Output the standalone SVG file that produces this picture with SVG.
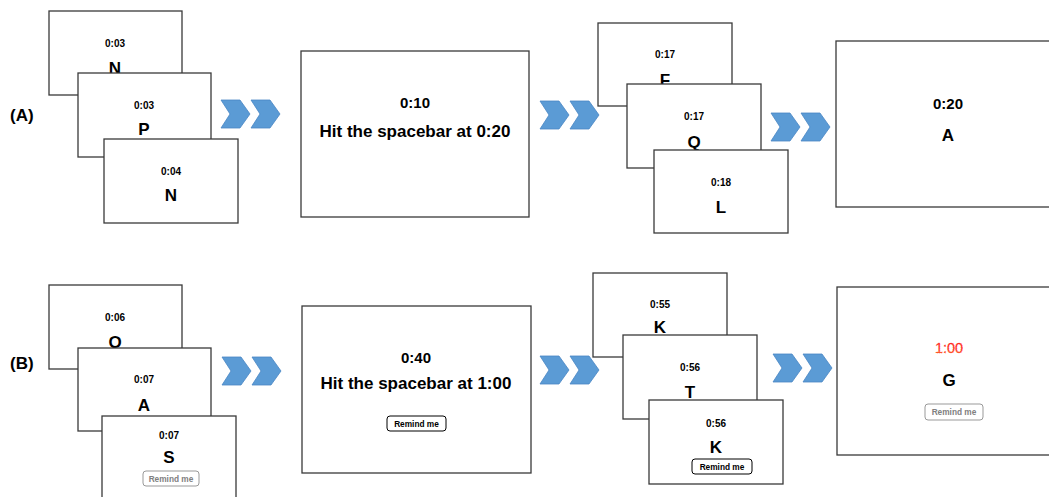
<svg xmlns="http://www.w3.org/2000/svg" width="1049" height="497" viewBox="0 0 1049 497">
<defs>
<style>
.scr{fill:#fff;stroke:#3a3a3a;stroke-width:1.3}
.t{font-family:"Liberation Sans",Arial,sans-serif;font-weight:bold;text-anchor:middle;fill:#000}
.tm{font-size:10px}
.lt{font-size:17px}
.big{font-size:15px}
.hit{font-size:17px}
.lab{font-family:"Liberation Sans",Arial,sans-serif;font-weight:bold;font-size:17px;fill:#000}
.btn{fill:#fff;stroke:#000;stroke-width:1}
.btng{fill:#fff;stroke:#999;stroke-width:1}
.bt{font-family:"Liberation Sans",Arial,sans-serif;font-weight:bold;font-size:8.3px;text-anchor:middle;fill:#000}
.btg{fill:#808080}
.chev{fill:#5B9BD5;stroke:#4A86C4;stroke-width:0.8}
</style>
<linearGradient id="redg" x1="0" y1="0" x2="0" y2="1">
<stop offset="0" stop-color="#ff1a1a"/>
<stop offset="0.6" stop-color="#ff3a2a"/>
<stop offset="1" stop-color="#ff8a2a"/>
</linearGradient>
<g id="dchev">
<path class="chev" d="M0,0 H19 L29,14 L19,28 H0 L9,14 Z"/>
<path class="chev" d="M30,0 H49 L59,14 L49,28 H30 L39,14 Z"/>
</g>
</defs>
<rect width="1049" height="497" fill="#fff"/>

<text class="lab" x="10" y="121">(A)</text>
<text class="lab" x="10" y="369">(B)</text>

<!-- Row A -->
<g id="a1">
<rect class="scr" x="49" y="11" width="133" height="84"/>
<text class="t tm" x="115" y="46.6">0:03</text>
<text class="t lt" x="115" y="74">N</text>
</g>
<g id="a2">
<rect class="scr" x="78" y="73" width="133" height="84"/>
<text class="t tm" x="144" y="108.6">0:03</text>
<text class="t lt" x="144" y="134.5">P</text>
</g>
<g id="a3">
<rect class="scr" x="104" y="139" width="134" height="84"/>
<text class="t tm" x="171" y="174.6">0:04</text>
<text class="t lt" x="171" y="200.5">N</text>
</g>
<g id="a4">
<rect class="scr" x="301" y="51" width="228" height="166"/>
<text class="t big" x="415" y="107.5">0:10</text>
<text class="t hit" x="415" y="137">Hit the spacebar at 0:20</text>
</g>
<g id="a5">
<rect class="scr" x="598" y="23" width="134" height="83"/>
<text class="t tm" x="665" y="57.6">0:17</text>
<text class="t lt" x="665" y="86">F</text>
</g>
<g id="a6">
<rect class="scr" x="627" y="84" width="134" height="84"/>
<text class="t tm" x="694" y="119.6">0:17</text>
<text class="t lt" x="694" y="148">Q</text>
</g>
<g id="a7">
<rect class="scr" x="654" y="150" width="134" height="83"/>
<text class="t tm" x="721" y="185.6">0:18</text>
<text class="t lt" x="721" y="213">L</text>
</g>
<g id="a8">
<rect class="scr" x="836" y="41" width="228" height="166"/>
<text class="t big" x="948" y="108.5">0:20</text>
<text class="t lt" x="948" y="141">A</text>
</g>

<!-- Row B -->
<g id="b1">
<rect class="scr" x="49" y="285" width="133" height="84"/>
<text class="t tm" x="115" y="320.6">0:06</text>
<text class="t lt" x="115" y="348">O</text>
</g>
<g id="b2">
<rect class="scr" x="78" y="348" width="133" height="83"/>
<text class="t tm" x="144" y="382.6">0:07</text>
<text class="t lt" x="144" y="411">A</text>
</g>
<g id="b3">
<rect class="scr" x="102" y="416" width="134" height="90"/>
<text class="t tm" x="169" y="438.6">0:07</text>
<text class="t lt" x="169" y="463">S</text>
<rect class="btng" x="143" y="471" width="56" height="15" rx="3"/>
<text class="bt btg" x="171" y="481.5">Remind me</text>
</g>
<g id="b4">
<rect class="scr" x="302" y="306" width="229" height="167"/>
<text class="t big" x="416" y="362.5">0:40</text>
<text class="t hit" x="416" y="389">Hit the spacebar at 1:00</text>
<rect class="btn" x="387" y="416" width="59" height="15" rx="3"/>
<text class="bt" x="416.5" y="426.5">Remind me</text>
</g>
<g id="b5">
<rect class="scr" x="593" y="273" width="134" height="84"/>
<text class="t tm" x="660" y="307.6">0:55</text>
<text class="t lt" x="660" y="333">K</text>
</g>
<g id="b6">
<rect class="scr" x="623" y="335" width="134" height="84"/>
<text class="t tm" x="690" y="370.6">0:56</text>
<text class="t lt" x="690" y="398">T</text>
</g>
<g id="b7">
<rect class="scr" x="649" y="400" width="134" height="84"/>
<text class="t tm" x="716" y="426.6">0:56</text>
<text class="t lt" x="716" y="453">K</text>
<rect class="btn" x="692" y="459" width="60" height="15" rx="3"/>
<text class="bt" x="722" y="469.5">Remind me</text>
</g>
<g id="b8">
<rect class="scr" x="837" y="287" width="228" height="168"/>
<text x="949" y="353" font-family="Liberation Sans, Arial, sans-serif" font-size="14.5" text-anchor="middle" fill="url(#redg)" stroke="#ff3020" stroke-width="0.4" stroke-dasharray="1 1">1:00</text>
<text class="t lt" x="949" y="386">G</text>
<rect class="btng" x="925" y="404" width="58" height="16" rx="3"/>
<text class="bt btg" x="954" y="415">Remind me</text>
</g>

<!-- connectors -->
<g id="connectors">
<use href="#dchev" x="221" y="100"/>
<use href="#dchev" x="540" y="101"/>
<use href="#dchev" x="771" y="113"/>
<use href="#dchev" x="222" y="357"/>
<use href="#dchev" x="540" y="356"/>
<use href="#dchev" x="773" y="354"/>
</g>
</svg>
